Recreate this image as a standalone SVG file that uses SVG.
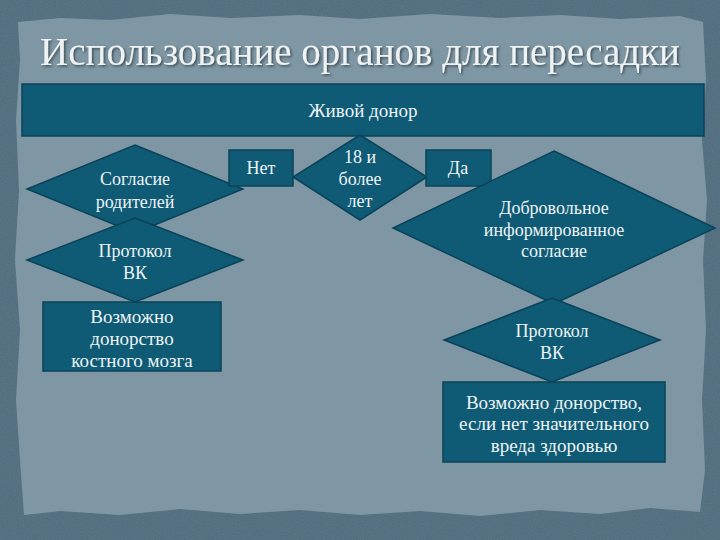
<svg xmlns="http://www.w3.org/2000/svg" width="720" height="540" viewBox="0 0 720 540">
  <defs>
    <style>
      .shape { fill: #0f5b76; stroke: #0a4358; stroke-width: 1.5; }
      .lbl { font-family: "Liberation Serif", "DejaVu Serif", serif; font-size: 18px; fill: #eef3f4; text-anchor: middle; }
      .big { font-size: 19px; }
      .title { font-family: "Liberation Serif", "DejaVu Serif", serif; font-size: 39px; fill: #eef2f3; text-anchor: middle; }
    </style>
    <filter id="shadow" x="-5%" y="-20%" width="110%" height="140%">
      <feDropShadow dx="1.5" dy="1.5" stdDeviation="0.8" flood-color="#2a3a44" flood-opacity="0.8"/>
    </filter>
    <filter id="grain" x="0" y="0" width="100%" height="100%">
      <feTurbulence type="fractalNoise" baseFrequency="0.9" numOctaves="2" seed="3" result="n"/>
      <feColorMatrix in="n" type="matrix" values="0 0 0 0 0.2  0 0 0 0 0.3  0 0 0 0 0.36  0 0 0 0.35 0" result="g"/>
      <feComposite in="g" in2="SourceGraphic" operator="in"/>
    </filter>
  </defs>

  <!-- background -->
  <rect x="0" y="0" width="720" height="540" fill="#4d697b"/>
  <rect x="0" y="0" width="720" height="540" fill="#4d697b" filter="url(#grain)"/>
  <path d="M18,22 L60,18 L110,20 L170,14 L230,18 L300,15 L360,19 L430,14 L500,18 L560,15 L620,19 L680,16 L703,22 L706,80 L702,140 L707,200 L703,260 L706,330 L702,400 L705,470 L700,512 L650,508 L600,514 L540,510 L480,516 L420,511 L360,515 L300,510 L240,514 L180,509 L120,515 L60,511 L24,515 L20,460 L16,400 L20,330 L15,260 L19,190 L16,120 L20,60 Z" fill="#7f97a4"/>
  <path d="M18,22 L60,18 L110,20 L170,14 L230,18 L300,15 L360,19 L430,14 L500,18 L560,15 L620,19 L680,16 L703,22 L706,80 L702,140 L707,200 L703,260 L706,330 L702,400 L705,470 L700,512 L650,508 L600,514 L540,510 L480,516 L420,511 L360,515 L300,510 L240,514 L180,509 L120,515 L60,511 L24,515 L20,460 L16,400 L20,330 L15,260 L19,190 L16,120 L20,60 Z" fill="#7f97a4" filter="url(#grain)" opacity="0.5"/>

  <text class="title" x="360" y="65" filter="url(#shadow)">Использование органов для пересадки</text>

  <g id="connectors"></g>

  <g id="live-donor">
    <rect class="shape" x="22" y="84" width="682" height="52"/>
    <text class="lbl big" x="363" y="117">Живой донор</text>
  </g>

  <g id="parents-consent">
    <polygon class="shape" points="135,145 243,189 135,233 27,189"/>
    <text class="lbl" x="135" y="185">Согласие</text>
    <text class="lbl" x="135" y="208">родителей</text>
  </g>

  <g id="protocol-left">
    <polygon class="shape" points="135,218 243,260 135,302 27,260"/>
    <text class="lbl" x="135" y="257">Протокол</text>
    <text class="lbl" x="135" y="279">ВК</text>
  </g>

  <g id="bone-marrow">
    <rect class="shape" x="43" y="302" width="178" height="69"/>
    <text class="lbl big" x="132" y="323">Возможно</text>
    <text class="lbl big" x="132" y="345">донорство</text>
    <text class="lbl big" x="132" y="367">костного мозга</text>
  </g>

  <g id="no">
    <rect class="shape" x="229" y="150" width="64" height="36"/>
    <text class="lbl" x="261" y="174">Нет</text>
  </g>

  <g id="age">
    <polygon class="shape" points="360,135 427,177 360,220 293,177"/>
    <text class="lbl" x="360" y="163">18 и</text>
    <text class="lbl" x="360" y="185">более</text>
    <text class="lbl" x="360" y="207">лет</text>
  </g>

  <g id="yes">
    <rect class="shape" x="426" y="150" width="65" height="36"/>
    <text class="lbl" x="458" y="174">Да</text>
  </g>

  <g id="voluntary-consent">
    <polygon class="shape" points="554,151 715,228 554,304 393,228"/>
    <text class="lbl" x="554" y="214">Добровольное</text>
    <text class="lbl" x="554" y="236">информированное</text>
    <text class="lbl" x="554" y="257">согласие</text>
  </g>

  <g id="protocol-right">
    <polygon class="shape" points="552,298 660,340 552,382 444,340"/>
    <text class="lbl" x="552" y="337">Протокол</text>
    <text class="lbl" x="552" y="359">ВК</text>
  </g>

  <g id="donation-possible">
    <rect class="shape" x="443" y="382" width="222" height="80"/>
    <text class="lbl big" x="554" y="409">Возможно донорство,</text>
    <text class="lbl big" x="554" y="430">если нет значительного</text>
    <text class="lbl big" x="554" y="452">вреда здоровью</text>
  </g>
</svg>
